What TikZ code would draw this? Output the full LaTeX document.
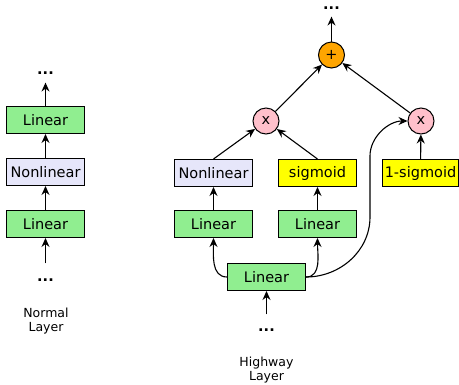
\documentclass[tikz,border=0pt]{standalone}
\usepackage{fontspec}
\setmainfont{DejaVu Sans}
\usetikzlibrary{arrows.meta}
\definecolor{UnitGreen}{RGB}{144,238,144}
\definecolor{UnitLavender}{RGB}{230,230,250}
\definecolor{GateYellow}{RGB}{255,255,0}
\definecolor{MulPink}{RGB}{255,192,203}
\definecolor{SumOrange}{RGB}{255,165,0}

\begin{document}
\begin{tikzpicture}[x=1pt, y=-1pt, >={Stealth[length=9pt,width=8pt,inset=3pt]},
    every node/.style={font=\fontsize{14.5}{17}\selectfont},
    unit/.style={draw, line width=1pt, minimum width=78pt, minimum height=27pt, inner sep=1pt},
    opnode/.style={draw, circle, line width=1pt, minimum size=26pt, inner sep=0pt},
    dotnode/.style={inner sep=0pt, font=\fontsize{14.5}{17}\selectfont\bfseries},
    layername/.style={align=center, font=\fontsize{12.5}{13.4}\selectfont},
    link/.style={->, line width=1.1pt}]
\useasboundingbox (0,0) rectangle (459,384);
% normal layer
\node[unit, fill=UnitGreen] (nIn) at (45.5,224) {Linear};
\node[unit, fill=UnitLavender] (nAct) at (45.5,172) {Nonlinear};
\node[unit, fill=UnitGreen] (nOut) at (45.5,120) {Linear};
\node[dotnode] (nBot) at (45.5,280) {...};
\node[dotnode] (nTop) at (45.5,73) {...};
\node[layername] (nName) at (46,321) {Normal\\Layer};
\draw[link, shorten <=15pt] (nBot) -- (nIn);
\draw[link] (nIn) -- (nAct);
\draw[link] (nAct) -- (nOut);
\draw[link, shorten >=8pt] (nOut) -- (nTop);
% highway layer
\node[unit, fill=UnitGreen] (hIn) at (266.5,277) {Linear};
\node[unit, fill=UnitGreen] (hLinA) at (213.5,224) {Linear};
\node[unit, fill=UnitGreen] (hLinB) at (317.5,224) {Linear};
\node[unit, fill=UnitLavender] (hAct) at (213.5,173) {Nonlinear};
\node[unit, fill=GateYellow] (hGate) at (317.5,173) {sigmoid};
\node[unit, fill=GateYellow, minimum width=76pt] (hCarry) at (420.5,173) {1-sigmoid};
\node[opnode, fill=MulPink] (mulA) at (266,121) {x};
\node[opnode, fill=MulPink] (mulB) at (421,121) {x};
\node[opnode, fill=SumOrange] (sum) at (331.5,55) {+};
\node[dotnode] (hTop) at (331.5,8) {...};
\node[dotnode] (hBot) at (266.5,330) {...};
\node[layername] (hName) at (266.5,370) {Highway\\Layer};
\draw[link, shorten <=14pt] (hBot) -- (hIn);
\draw[link] (hIn.west) to[out=180,in=-90] (hLinA.south);
\draw[link] (hIn.east) to[out=0,in=-90] (hLinB.south);
\draw[link] (hLinA) -- (hAct);
\draw[link] (hLinB) -- (hGate);
\draw[link] (hAct.north) -- (mulA);
\draw[link] (hGate.north) -- (mulA);
\draw[link] (hCarry) -- (mulB);
\draw[link] (hIn.east) .. controls +(34,0) and +(0,34) .. (370,217)
    -- (370,156) .. controls +(0,-19) and +(-19,0) .. (mulB.west);
\draw[link] (mulA) -- (sum);
\draw[link] (mulB) -- (sum);
\draw[link, shorten >=7pt] (sum) -- (hTop);
\end{tikzpicture}
\end{document}
